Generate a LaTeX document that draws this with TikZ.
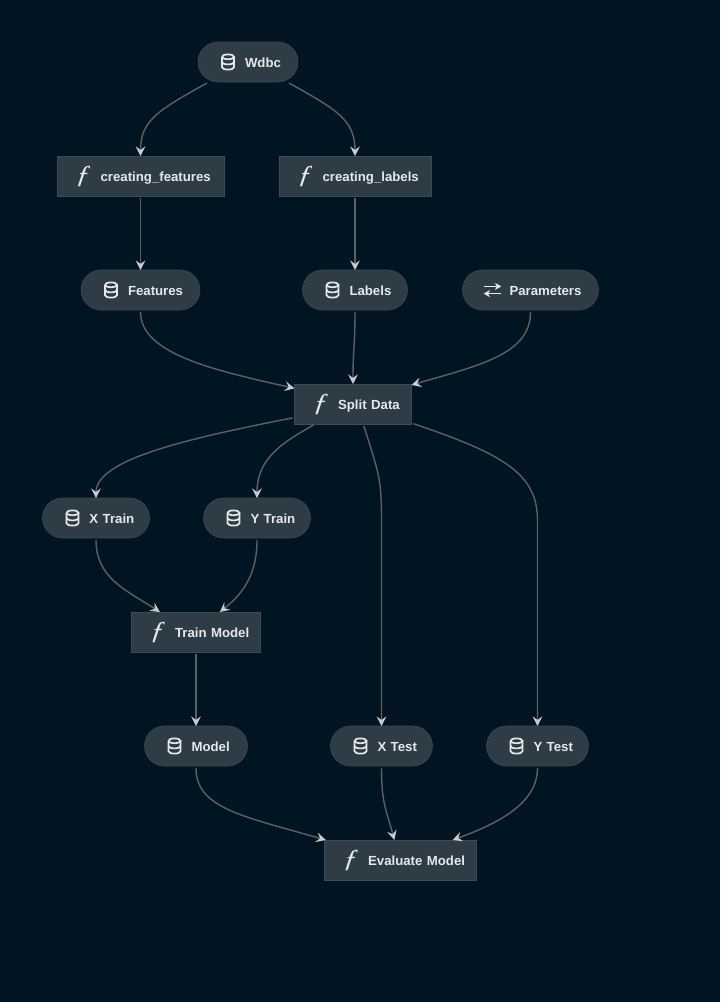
\documentclass[tikz,border=0pt]{standalone}
\usepackage{fontspec}
\usepackage{xcolor}
\usetikzlibrary{arrows.meta,positioning}
\setmainfont{Liberation Sans}
\newfontfamily\fnfont[ItalicFeatures={FakeSlant=0.15,FakeBold=0.15}]{Liberation Serif}
\definecolor{pagebg}{HTML}{001521}
\definecolor{nodebg}{HTML}{2E3C46}
\definecolor{nodeline}{HTML}{3C4B55}
\definecolor{nodetext}{HTML}{E4E8EB}
\definecolor{edgeline}{HTML}{5C6064}
\definecolor{edgetip}{HTML}{C8CBCD}
\tikzset{
  nodebase/.style={draw=nodeline, fill=nodebg, text=nodetext, font=\fontsize{9.4}{11}\selectfont\bfseries, outer sep=0pt, inner xsep=0pt, inner ysep=0pt, minimum height=1cm, text height=0.3cm, text depth=0.05cm, align=left},
  databox/.style={nodebase, rounded corners=0.5cm, text width=#1, execute at begin node={\hspace*{1.175cm}}},
  taskbox/.style={nodebase, text width=#1, execute at begin node={\hspace*{1.09cm}}},
  edge/.style={->, edgeline, line width=1pt, shorten <=1.4pt},
  fnicon/.style={text=nodetext, font=\fontsize{18}{18}\selectfont\fnfont\itshape, inner sep=0pt},
  dbicon/.pic={
    \draw[nodetext, line width=1.2pt] (-0.15,0.13) arc[start angle=180, end angle=-180, x radius=0.15, y radius=0.06];
    \draw[nodetext, line width=1.2pt] (-0.15,0.13) -- (-0.15,-0.13) arc[start angle=180, end angle=360, x radius=0.15, y radius=0.06] -- (0.15,0.13);
    \draw[nodetext, line width=1.2pt] (-0.15,0) arc[start angle=180, end angle=360, x radius=0.15, y radius=0.06];
  },
  swapicon/.pic={
    \draw[nodetext, line width=1.1pt, -{Stealth[length=1.6mm,width=1.8mm]}] (-0.22,0.09) -- (0.22,0.09);
    \draw[nodetext, line width=1.1pt, -{Stealth[length=1.6mm,width=1.8mm]}] (0.22,-0.09) -- (-0.22,-0.09);
  },
}
\begin{document}
\begin{tikzpicture}[>={Stealth[length=2.4mm,width=2.4mm,inset=0.9mm,color=edgetip]}]
  \fill[pagebg] (0,0) rectangle (18,-25.05);
  \node[databox=2.5cm] (wdbc) at (6.2,-1.55) {Wdbc};
  \node[taskbox=4.175cm, below left=1.85cm and -0.65cm of wdbc] (features fn) {creating\_features};
  \node[taskbox=3.8cm, below right=1.85cm and -0.475cm of wdbc] (labels fn) {creating\_labels};
  \node[databox=2.975cm, below=1.85cm of features fn] (features) {Features};
  \node[databox=2.625cm, below=1.85cm of labels fn] (labels) {Labels};
  \node[databox=3.4cm, right=1.375cm of labels] (parameters) {Parameters};
  \node[taskbox=2.925cm, below=1.85cm of labels, xshift=-0.05cm] (split) {Split Data};
  \node[databox=2.675cm, below left=1.85cm and 3.625cm of split] (xtrain) {X Train};
  \node[databox=2.675cm, right=1.35cm of xtrain] (ytrain) {Y Train};
  \node[taskbox=3.225cm, below right=1.85cm and -0.45cm of xtrain] (train) {Train Model};
  \node[databox=2.575cm, below=1.85cm of train] (model) {Model};
  \node[databox=2.55cm, right=2.075cm of model] (xtest) {X Test};
  \node[databox=2.55cm, right=1.35cm of xtest] (ytest) {Y Test};
  \node[taskbox=3.8cm, below right=1.85cm and 1.925cm of model] (evaluate) {Evaluate Model};
  \foreach \n in {wdbc,features,labels,xtrain,ytrain,model,xtest,ytest}
    \pic at ([xshift=0.75cm]\n.west) {dbicon};
  \pic at ([xshift=0.75cm]parameters.west) {swapicon};
  \foreach \n in {features fn,labels fn,split,train,evaluate}
    \node[fnicon] (icon \n) at ([xshift=0.63cm]\n.west) {ƒ};
  \draw[edge] (wdbc.207) .. controls +(-1.25,-0.7) and +(0,0.9) .. (features fn.north);
  \draw[edge] (wdbc.333) .. controls +(1.25,-0.7) and +(0,0.9) .. (labels fn.north);
  \draw[edge] (features fn.south) -- (features.north);
  \draw[edge] (labels fn.south) -- (labels.north);
  \draw[edge] (features.south) .. controls +(0,-1.1) and +(-2,0.45) .. (split.165);
  \draw[edge] (labels.south) .. controls +(0,-0.9) and +(0,0.9) .. (split.north);
  \draw[edge] (parameters.south) .. controls +(0,-1.1) and +(1.725,0.5) .. (split.18);
  \draw[edge] (split.193) .. controls +(-2.8,-0.55) and +(0,0.95) .. (xtrain.north);
  \draw[edge] (split.208) .. controls +(-0.9,-0.5) and +(0,0.95) .. (ytrain.north);
  \draw[edge] (split.297) .. controls +(0.4,-1.25) and +(0,1) .. ([yshift=5.15cm]xtest.north) -- (xtest.north);
  \draw[edge] (split.342) .. controls +(2.2,-0.75) and +(0,1.2) .. ([yshift=5.15cm]ytest.north) -- (ytest.north);
  \draw[edge] (xtrain.south) .. controls +(0,-1) and +(-0.85,0.55) .. (train.151);
  \draw[edge] (ytrain.south) .. controls +(0,-1) and +(0.5,0.4) .. (train.40);
  \draw[edge] (train.south) -- (model.north);
  \draw[edge] (model.south) .. controls +(0,-1.05) and +(-2.1,0.6) .. (evaluate.165);
  \draw[edge] (xtest.south) .. controls +(0,-0.95) and +(-0.2,0.75) .. (evaluate.107);
  \draw[edge] (ytest.south) .. controls +(0,-0.95) and +(1.1,0.4) .. (evaluate.21);
\end{tikzpicture}
\end{document}
